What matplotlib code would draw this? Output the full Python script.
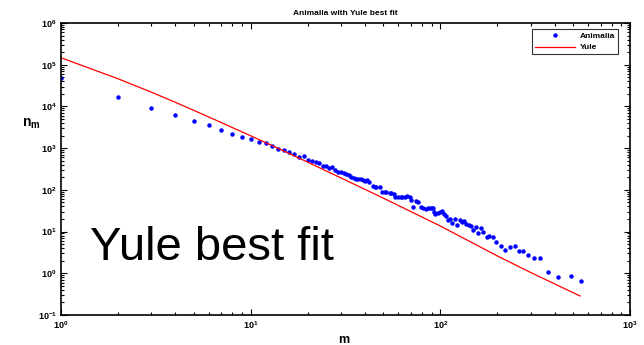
import math
import matplotlib
matplotlib.use("Agg")
import matplotlib.pyplot as plt
from matplotlib.ticker import LogLocator, FuncFormatter, NullFormatter

plt.rcParams['font.family'] = ['Liberation Sans', 'DejaVu Sans']
plt.rcParams['mathtext.fontset'] = 'custom'
plt.rcParams['mathtext.rm'] = 'Liberation Sans'
plt.rcParams['mathtext.it'] = 'Liberation Sans:italic'
plt.rcParams['mathtext.bf'] = 'Liberation Sans:bold'

# Animalia: number of genera n_m with m species
m_obs = [1, 2, 3, 4, 5, 6, 7, 8, 9, 10,
         11, 12, 13, 14, 15, 16, 17, 18, 19, 20,
         21, 22, 23, 24, 25, 26, 27, 28, 29, 30,
         31, 32, 33, 34, 35, 36, 37, 38, 39, 40,
         41, 42, 44, 45, 46, 48, 49, 51, 52, 54,
         55, 57, 58, 60, 62, 63, 65, 67, 69, 70,
         72, 74, 76, 79, 81, 84, 86, 88, 90, 92,
         93, 94, 97, 100, 102, 104, 107, 110, 112, 115.5,
         119.8, 122.8, 126.9, 130.4, 133.2, 136.4, 141, 144.4, 149.1, 153.5,
         158.5, 163.7, 168.3, 175.4, 181.1, 189.4, 197.1, 208.7, 219.9, 233.6,
         246.5, 259.6, 273.5, 290.6, 311.5, 336.3, 367.8, 418.3, 486.3, 552.9]
n_obs = [47200, 16800, 9310, 6320, 4540, 3520, 2770, 2220, 1850, 1650,
         1380, 1300, 1120, 950, 900, 793, 735, 622, 635, 527,
         482, 456, 431, 379, 366, 328, 352, 303, 268, 262,
         253, 240, 226, 206, 189, 182, 180, 178, 172, 165,
         172, 151, 125, 119, 119, 115, 90, 87, 87, 82,
         85, 78, 66, 68, 66, 68, 68, 71, 66, 58,
         38, 54, 50, 39, 37, 35, 36, 37, 36, 37,
         29, 26, 28, 30, 31, 27, 23.5, 18.9, 19.6, 15.7,
         19.6, 14.3, 18.9, 17.2, 17.9, 14.9, 14.1, 13.6, 10.9, 12.6,
         9.4, 11.9, 9.9, 7.5, 7.9, 7.4, 5.5, 4.56, 3.60, 4.25,
         4.42, 3.35, 3.35, 2.78, 2.32, 2.28, 1.09, 0.82, 0.87, 0.65]

# Yule model curve
m_fit = [1, 2, 3, 4, 5, 7, 10, 15, 20, 30, 50, 100, 200, 300, 545]
n_fit = [1.47e5, 4.6e4, 2.19e4, 1.26e4, 8.1e3, 4.1e3, 1.98e3, 850, 460,
         192, 63.5, 13.6, 2.6, 1.04, 0.286]

title = "Animalia with Yule best fit"
note = "Yule best fit"

fig = plt.figure(figsize=(6.44, 3.45), dpi=100)
ax = fig.add_axes([61/644, 1 - 315/345, (630 - 61)/644, (315 - 23)/345])

ax.plot(m_obs, n_obs, linestyle='none', marker='.', markersize=4.4,
        color='#0000ff', label='Animalia')
ax.plot(m_fit, n_fit, color='#ff0000', linewidth=0.9, label='Yule')

ax.set_xscale('log')
ax.set_yscale('log')
ax.set_xlim(1, 1000)
ax.set_ylim(0.1, 1e6)

ax.xaxis.set_major_locator(LogLocator(base=10, numticks=10))
ax.yaxis.set_major_locator(LogLocator(base=10, numticks=10))
ax.xaxis.set_minor_locator(LogLocator(base=10, subs=range(2, 10), numticks=20))
ax.yaxis.set_minor_locator(LogLocator(base=10, subs=range(2, 10), numticks=20))

fmt = FuncFormatter(lambda v, p: r'$\mathbf{10^{%d}}$' % round(math.log10(v)))
ax.xaxis.set_major_formatter(fmt)
ax.yaxis.set_major_formatter(fmt)
ax.xaxis.set_minor_formatter(NullFormatter())
ax.yaxis.set_minor_formatter(NullFormatter())
ax.xaxis.get_offset_text().set_visible(False)
ax.yaxis.get_offset_text().set_visible(False)

ax.tick_params(which='both', direction='in', top=True, right=True,
               width=0.8, colors='black', labelsize=6.5)
ax.tick_params(which='major', length=4)
ax.tick_params(which='minor', length=2.5)
ax.tick_params(axis='x', which='major', pad=3)
ax.tick_params(axis='y', which='major', pad=3)

for s in ax.spines.values():
    s.set_linewidth(1.2)
    s.set_color('black')

ax.set_title(title, fontsize=6, fontweight='bold', pad=6)
ax.set_xlabel('m', fontsize=9, fontweight='bold', va='center')
ax.xaxis.set_label_coords(0.497, -0.084)
ax.set_ylabel(r'$\mathbf{n_m}$', fontsize=10, rotation=0, ha='center', va='center')
ax.yaxis.set_label_coords(-0.053, 0.655)

ax.text(0.051, 0.19, note, transform=ax.transAxes, fontsize=34,
        ha='left', va='baseline', color='black')

leg = ax.legend(loc='upper right', bbox_to_anchor=(0.979, 0.979),
                borderaxespad=0, fontsize=6, frameon=True, fancybox=False,
                edgecolor='black', borderpad=0.35, handlelength=4.8,
                handletextpad=0.6, labelspacing=0.45)
leg.get_frame().set_linewidth(0.8)
for t in leg.get_texts():
    t.set_fontweight('bold')

fig.savefig('out.png', dpi=100)
